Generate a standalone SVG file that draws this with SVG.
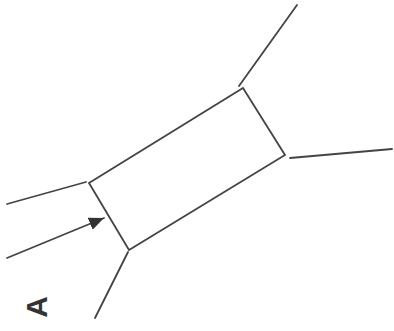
<svg xmlns="http://www.w3.org/2000/svg" width="394" height="331" viewBox="0 0 394 331">
<style>
.ln{stroke:#444;stroke-width:1.8;fill:none;stroke-linecap:round}
.lbl{font-family:"Liberation Sans",Arial,sans-serif;font-weight:bold;font-size:30px;fill:#333}
</style>
<defs>
<marker id="ah2" viewBox="0 0 15 13" refX="15" refY="6.5" markerWidth="15" markerHeight="13" orient="auto" markerUnits="userSpaceOnUse">
<path d="M0,0 L15,6.5 L0,13 Z" fill="#333"/>
</marker>
</defs>
<rect width="394" height="331" fill="#fff"/>
<g id="box">
<polygon class="ln" points="89,183 243,88 285,155 129,250"/>
</g>
<g id="connectors">
<line class="ln" x1="239" y1="86" x2="297" y2="5"/>
<line class="ln" x1="290" y1="158" x2="392" y2="149"/>
<line class="ln" x1="7" y1="204" x2="86" y2="182"/>
<line class="ln" x1="128" y1="252" x2="95" y2="318"/>
<line class="ln" x1="7" y1="258" x2="104" y2="218" marker-end="url(#ah2)"/>
</g>
<g id="label">
<text class="lbl" transform="translate(47,307) rotate(-90)" text-anchor="middle">A</text>
</g>
</svg>
